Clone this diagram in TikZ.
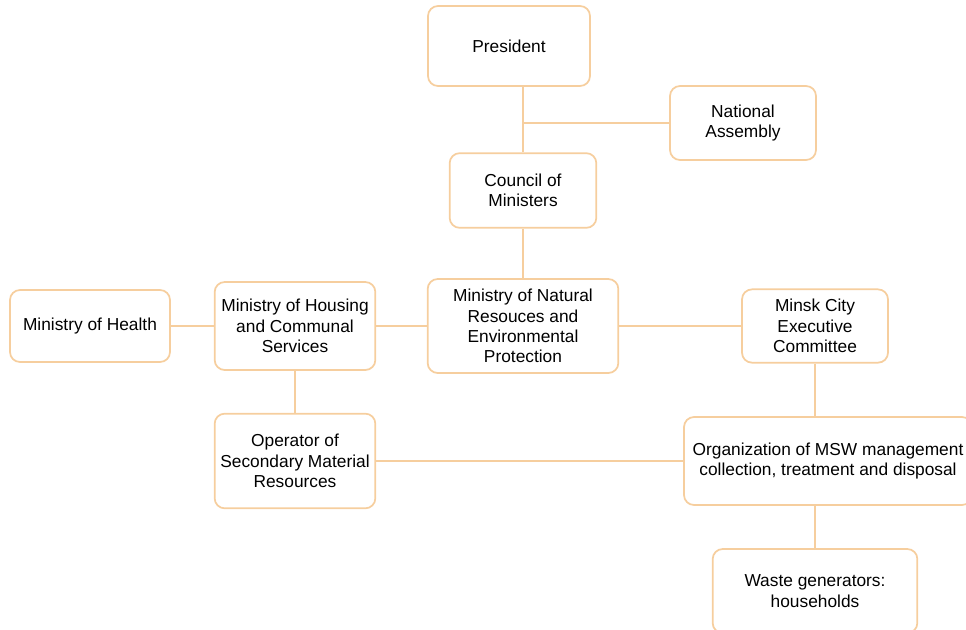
\documentclass[tikz,border=0pt]{standalone}
\usepackage{fontspec}
\setmainfont{Liberation Sans}
\usetikzlibrary{positioning}

\definecolor{paleOrange}{RGB}{246,206,158} % 边框与连线颜色

\tikzset{
    orgbox/.style={draw=paleOrange, line width=1.3pt, rounded corners=7.5pt,
        fill=white, align=center, font=\fontsize{13}{15.2}\selectfont,
        inner sep=1pt},
    link/.style={draw=paleOrange, line width=1.5pt}
}

\begin{document}
\begin{tikzpicture}[x=0.75pt, y=-0.75pt]
    % 画布范围 (像素坐标)
    \useasboundingbox (0,0) rectangle (966,629);

    % 上层机构
    \node[orgbox, minimum width=121.5pt, minimum height=60pt] (pres) at (509,46) {President};
    \node[orgbox, minimum width=109.5pt, minimum height=55.5pt] (nasm) at (743,123) {National\\Assembly};
    \node[orgbox, minimum width=110pt, minimum height=56pt] (coun) at (523,190.5) {Council of\\Ministers};

    % 部委层
    \node[orgbox, minimum width=143pt, minimum height=70.5pt] (nat) at (523,326) {Ministry of Natural\\Resouces and\\Environmental\\Protection};
    \node[orgbox, minimum width=120.5pt, minimum height=66pt] (hous) at (295,326) {Ministry of Housing\\and Communal\\Services};
    \node[orgbox, minimum width=120pt, minimum height=54pt] (hlth) at (90,326) {Ministry of Health};
    \node[orgbox, minimum width=109.5pt, minimum height=55pt] (minsk) at (815,326) {Minsk City\\Executive\\Committee};

    % 下层执行机构
    \node[orgbox, minimum width=120.5pt, minimum height=71pt] (oper) at (295,461) {Operator of\\Secondary Material\\Resources};
    \node[orgbox, minimum width=216pt, minimum height=66pt] (msw) at (828,461) {Organization of MSW management\\collection, treatment and disposal};
    \node[orgbox, minimum width=153.5pt, minimum height=63pt] (waste) at (815,591) {Waste generators:\\households};

    % 连线
    \draw[link] (coun.north) -- (coun.north |- pres.south);
    \coordinate (jn) at (coun.north |- nasm.west);
    \draw[link] (jn) -- (nasm.west);
    \draw[link] (coun.south) -- (coun.south |- nat.north);
    \draw[link] (hlth.east) -- (hous.west);
    \draw[link] (hous.east) -- (nat.west);
    \draw[link] (nat.east) -- (minsk.west);
    \draw[link] (hous.south) -- (oper.north);
    \draw[link] (minsk.south) -- (minsk.south |- msw.north);
    \draw[link] (oper.east) -- (msw.west);
    \coordinate (wtop) at (waste.north);
    \draw[link] (wtop) -- (wtop |- msw.south);
\end{tikzpicture}
\end{document}
